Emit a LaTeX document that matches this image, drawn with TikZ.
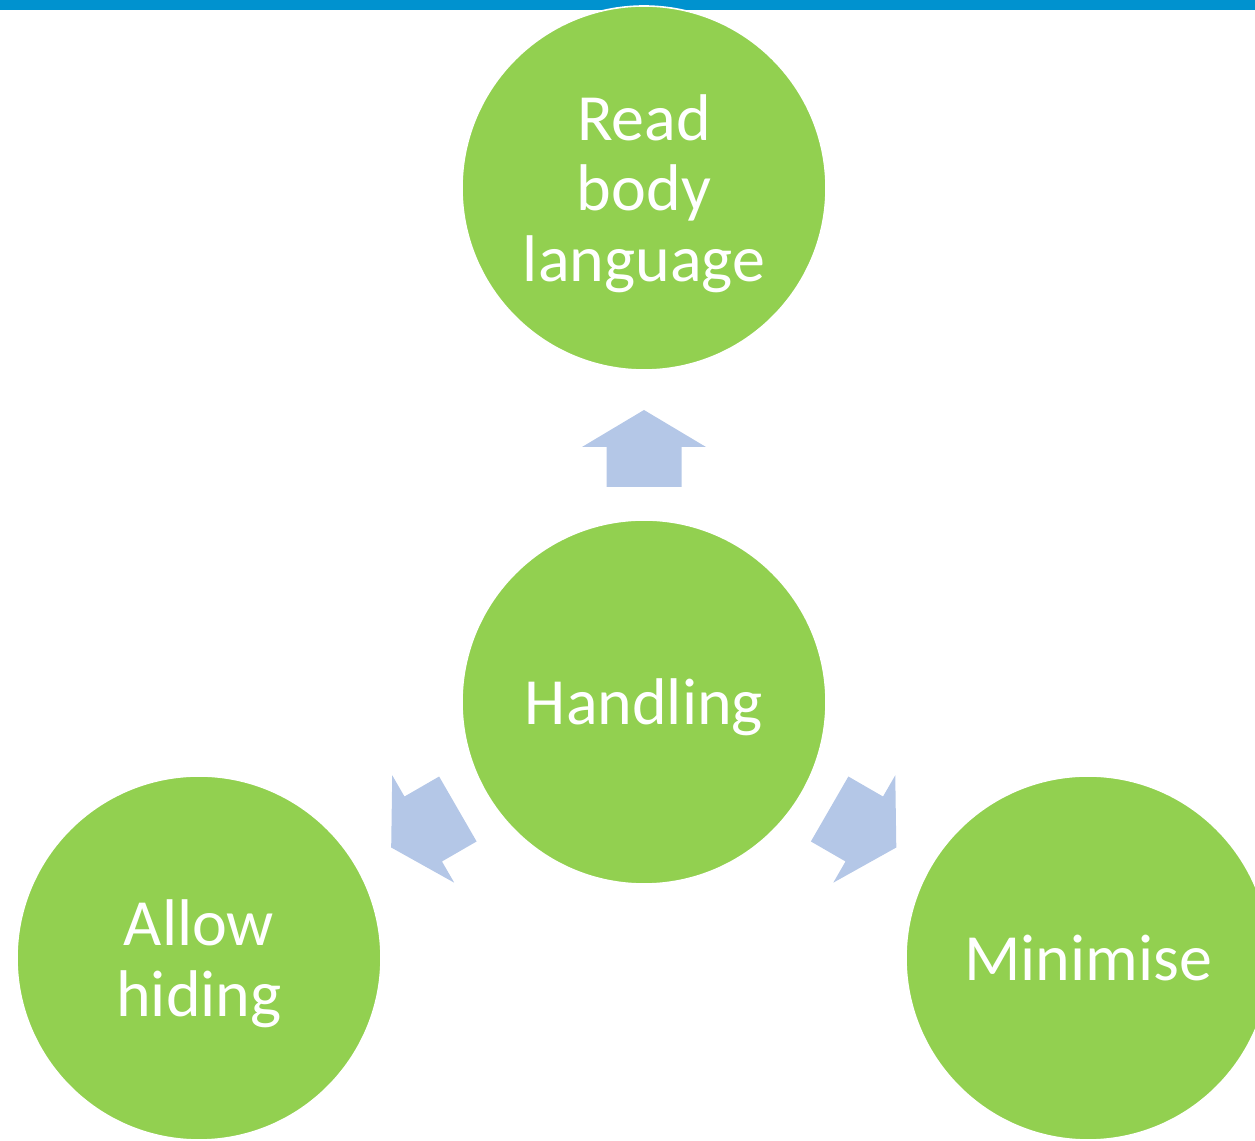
\documentclass[tikz,border=0pt]{standalone}
\usepackage{fontspec}
\setmainfont{Carlito}
\usetikzlibrary{calc}
\definecolor{leafgreen}{RGB}{146,208,80}
\definecolor{arrowblue}{RGB}{180,199,231}
\definecolor{barblue}{RGB}{0,146,207}
\tikzstyle{topicCircle}=[shape = circle, minimum size = 182pt, inner sep = 0pt, fill = leafgreen, draw = white, line width = 0.8pt, text = white, align = center, text depth = 0pt, font = \fontsize{33}{35.3}\selectfont]
\tikzstyle{blockArrow}=[fill = arrowblue]

\begin{document}
\begin{tikzpicture}[x = 0.5pt, y = 0.5pt]
\clip (0,0) rectangle (1255,1141);
\fill[barblue] (0,1131) rectangle (1255,1141);
\node[topicCircle] (hub) at (644,439) {Handling};
\node[topicCircle] (read) at (644,953) {Read\\body\\language};
\node[topicCircle] (hide) at (199,183) {Allow\\hiding};
\node[topicCircle] (min) at (1088,183) {Minimise};
\foreach \target/\ang in {read/90, hide/210, min/-30}
  \fill[blockArrow, shift = {($(hub)!0.5!(\target)$)}, rotate = \ang]
    (-42,-37.5) -- (-2,-37.5) -- (-2,-62) -- (35,0) -- (-2,62) -- (-2,37.5) -- (-42,37.5) -- cycle;
\end{tikzpicture}
\end{document}
